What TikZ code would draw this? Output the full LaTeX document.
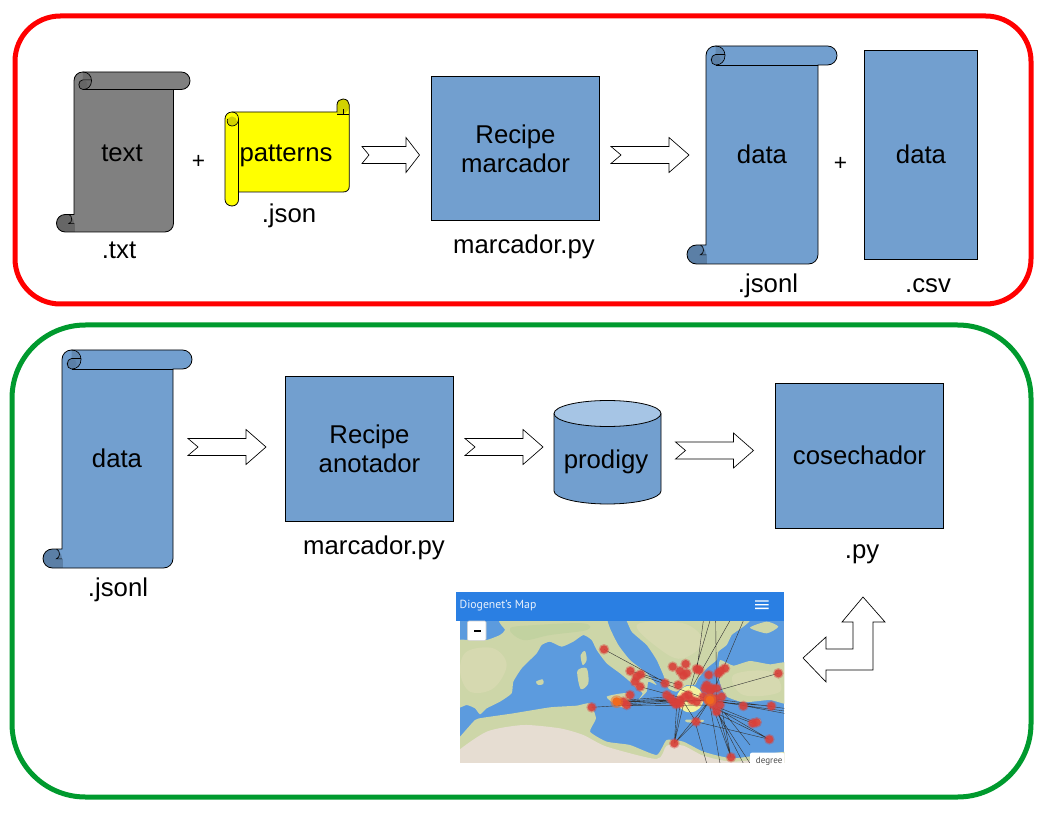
\documentclass[tikz,border=0pt]{standalone}
\usepackage{fontspec}
\setmainfont{Liberation Sans}
\newfontfamily\mapfont{PT Sans}
\newcommand{\lfont}{\fontsize{19.3}{21.75}\selectfont}
\definecolor{boxblue}{HTML}{729FCF}
\definecolor{boxdark}{HTML}{5B7FA6}
\definecolor{cyltop}{HTML}{A6C5E5}
\definecolor{greyfill}{HTML}{808080}
\definecolor{greydark}{HTML}{666666}
\definecolor{frameg}{HTML}{009A2E}
\definecolor{yel}{HTML}{FFFF00}
\definecolor{yeldark}{HTML}{D2D200}
\definecolor{mapsea}{HTML}{5C9BDE}
\definecolor{mapland}{HTML}{CDD6A8}
\definecolor{mapland2}{HTML}{D6D9B0}
\definecolor{mapland3}{HTML}{C2D2A0}
\definecolor{mapsand}{HTML}{E6DDD2}
\definecolor{maphead}{HTML}{2A7FE3}
\definecolor{mapdot}{HTML}{D9403A}
\definecolor{maporange}{HTML}{F06A1E}
\definecolor{mapglow}{HTML}{F2F2A0}
\tikzset{
  x=0.75pt,y=-0.75pt,
  frame/.style={draw,line width=3.75pt,rounded corners=#1},
  bluebox/.style={draw=black,fill=boxblue,line width=0.5pt,align=center,font=\lfont,inner sep=0pt},
  lab/.style={font=\lfont,inner sep=0pt,align=center,anchor=base},
  plus/.style={font=\fontsize{17}{20}\selectfont,inner sep=0pt},
  blockarrow/.style={draw=black,fill=white,line width=0.5pt,line join=miter},
  outline/.style={draw=black,line width=0.6pt},
  thin line/.style={line width=0.5pt},
}
% L R T B Rr d CL body dark
\newcommand{\vscrollshape}[9]{%
  \def\sp{(#1,{#3+#6/2}) .. controls (#1,{#3+#6*.22}) and ({#1+#6*.22},#3) .. ({#1+#6/2},#3) -- ({#5-#6/2},#3) .. controls ({#5-#6*.22},#3) and (#5,{#3+#6*.22}) .. (#5,{#3+#6/2}) .. controls (#5,{#3+#6*.78}) and ({#5-#6*.22},{#3+#6}) .. ({#5-#6/2},{#3+#6}) -- (#2,{#3+#6}) -- (#2,{#4-#6/2}) .. controls (#2,{#4-#6*.22}) and ({#2-#6*.22},#4) .. ({#2-#6/2},#4) -- ({#7+#6/2},#4) .. controls ({#7+#6*.22},#4) and (#7,{#4-#6*.22}) .. (#7,{#4-#6/2}) .. controls (#7,{#4-#6*.78}) and ({#7+#6*.22},{#4-#6}) .. ({#7+#6/2},{#4-#6}) -- (#1,{#4-#6}) -- cycle}%
  \fill[#8] \sp;
  \begin{scope}
    \clip (#7,{#4-#6}) rectangle ({#1+1},#4);
    \fill[#9] ({#7+#6/2},{#4-#6/2}) circle[radius=#6/2];
    \fill[#9] ({#7+#6/2},{#4-#6*.5}) rectangle ({#1+1},#4);
    \fill[#9] ({#7+#6/2},{#4-#6}) rectangle ({#1-#6*.25},#4);
  \end{scope}
  \begin{scope}
    \clip ({#1+#6/2},#3) rectangle ({#1+#6},{#3+#6});
    \fill[#9!70!#8] ({#1+#6/2},{#3+#6/2}) circle[radius=#6/2];
  \end{scope}
  \fill[#9] ({#1+#6/2},{#3+#6*0.72}) circle[radius=#6*0.27];
  \draw[thin line] ({#1+#6*0.5},#3) .. controls ({#1+#6*0.8},#3) and ({#1+#6},{#3+#6*0.2}) .. ({#1+#6},{#3+#6*0.5}) .. controls ({#1+#6},{#3+#6*0.8}) and ({#1+#6*0.8},{#3+#6}) .. ({#1+#6*0.5},{#3+#6});
  \draw[thin line] ({#1+#6*0.5},{#3+#6}) .. controls ({#1+#6*0.2},{#3+#6}) and ({#1+#6*0.22},{#3+#6*0.45}) .. ({#1+#6*0.5},{#3+#6*0.45}) -- ({#1+#6},{#3+#6*0.45});
  \draw[thin line] ({#1-#6*0.28},{#4-#6}) .. controls ({#1-#6*0.08},{#4-#6*0.9}) and ({#1-#6*0.08},{#4-#6*0.55}) .. ({#1-#6*0.3},{#4-#6*0.48}) -- (#1,{#4-#6*0.48});
  \draw[outline] ({#1+#6/2},{#3+#6}) -- (#2,{#3+#6});
  \draw[outline] \sp;
}
\newcommand{\barrow}[5]{% x0 x1 ymid head notch
  \draw[blockarrow] (#1,{#3-8.5}) -- ({#2-#4},{#3-8.5}) -- ({#2-#4},{#3-17.5}) -- (#2,#3) -- ({#2-#4},{#3+17.5}) -- ({#2-#4},{#3+8.5}) -- (#1,{#3+8.5}) -- ({#1+#5},#3) -- cycle;
}
\begin{document}
\begin{tikzpicture}
\useasboundingbox (0,0) rectangle (1056,816);
\fill[white] (0,0) rectangle (1056,816);
% frames
\draw[frame=34pt,draw=red] (15,16) rectangle (1031,304);
\draw[frame=55pt,draw=frameg] (12,325) rectangle (1031,797);
% scrolls
\vscrollshape{74}{173.5}{72}{232}{190}{17.5}{56.5}{greyfill}{greydark}
\vscrollshape{706}{818}{46}{264}{837}{19}{687}{boxblue}{boxdark}
\vscrollshape{62}{173}{350}{568}{192}{19}{43}{boxblue}{boxdark}
\node[lab] (ntext) at (122,162) {text};
\node[lab] (ndata1) at (762,164) {data};
\node[lab] (ndata3) at (117,467) {data};
% horizontal scroll
\fill[yel] (232,112) -- (337,112) -- (337,105) .. controls (337,101) and (340,99) .. (343,99) .. controls (347,99) and (349.3,102) .. (349.3,105) -- (349.3,186) .. controls (349.3,190) and (347,192) .. (343,192) -- (238.5,192) -- (238.5,199.5) .. controls (238.5,203) and (236,206) .. (232,206) .. controls (228,206) and (225,203) .. (225,199.5) -- (225,119) .. controls (225,115) and (228,112) .. (232,112);
\fill[yeldark] (337,112) -- (337,105) .. controls (337,101) and (340,99) .. (343,99) .. controls (347,99) and (349.3,102) .. (349.3,105) .. controls (349.3,110) and (346,114) .. (342,114) -- (337,114) -- cycle;
\draw[outline] (232,112) -- (337,112) -- (337,105) .. controls (337,101) and (340,99) .. (343,99) .. controls (347,99) and (349.3,102) .. (349.3,105) -- (349.3,186) .. controls (349.3,190) and (347,192) .. (343,192) -- (238.5,192) -- (238.5,199.5) .. controls (238.5,203) and (236,206) .. (232,206) .. controls (228,206) and (225,203) .. (225,199.5) -- (225,119) .. controls (225,115) and (228,112) .. (232,112);
\draw[outline] (238.5,119) -- (238.5,192);
\fill[yeldark] (232,121.5) circle[radius=5];
\draw[thin line] (232,112) .. controls (236,112) and (238.5,115) .. (238.5,119) .. controls (238.5,124) and (235,126) .. (232,126) .. controls (228,126) and (226.5,122) .. (227.5,119);
\draw[thin line] (337,114.5) -- (349,114.5) (343,114.5) -- (343,109);
\node[lab] (npat) at (286,162) {patterns};
% boxes
\node[bluebox,minimum width=126.2pt,minimum height=108.5pt] (rm) at (515.5,148.5) {Recipe\\marcador};
\node[bluebox,minimum width=85pt,minimum height=157.2pt] (d2) at (921,154.8) {data};
\node[bluebox,minimum width=126.2pt,minimum height=109.2pt] (ra) at (369.5,449) {Recipe\\anotador};
\node[bluebox,minimum width=126.2pt,minimum height=108.5pt] (co) at (859.5,455.5) {cosechador};
% cylinder
\draw[outline,fill=boxblue] (554,414) -- (554,491) .. controls (554,498) and (578,504) .. (607.5,504) .. controls (637,504) and (661,498) .. (661,491) -- (661,414) -- cycle;
\draw[outline,fill=cyltop] (607.5,413.5) ellipse[x radius=53.5,y radius=13];
\node[lab] (np) at (606,468) {prodigy};
% labels
\node[lab] (l1) at (119,259) {.txt};
\node[lab] (l2) at (289,223) {.json};
\node[lab] (l3) at (524,254) {marcador.py};
\node[lab] (l4) at (768,292.5) {.jsonl};
\node[lab] (l5) at (928,292.5) {.csv};
\node[lab] (l6) at (374,554) {marcador.py};
\node[lab] (l7) at (118,596) {.jsonl};
\node[lab] (l8) at (862,558) {.py};
\node[plus] (p1) at (198.5,161.5) {+};
\node[plus] (p2) at (840.5,163.5) {+};
% arrows
\barrow{362}{419.5}{155}{13.5}{7}
\barrow{611}{689}{155}{20}{10}
\barrow{188}{266}{447}{20}{10}
\barrow{465}{543}{447}{20}{10}
\barrow{675.5}{753.5}{450.5}{20}{10}
\draw[blockarrow] (863,597) -- (885,622) -- (873,622) -- (873,670) -- (826,670) -- (826,682) -- (803,658) -- (826,637) -- (826,649) -- (853,649) -- (853,622) -- (842,622) -- cycle;
% map, in zoom coordinates
\begin{scope}[shift={(450,585)},x=0.25pt,y=-0.25pt]
  \begin{scope}
  \clip (30,107) rectangle (1003,535);
  \fill[mapsea] (30,107) rectangle (1003,535);
  % southern Europe
  \fill[mapland] plot[smooth cycle,tension=.3] coordinates {(175,90) (165,135) (150,150) (110,165) (60,165) (10,175) (10,365) (50,360) (75,370) (90,388) (110,370) (150,350) (185,325) (190,290) (215,250) (260,205) (275,180) (300,170) (335,185) (370,170) (400,150) (425,165) (440,195) (470,235) (510,265) (540,290) (560,310) (578,325) (565,345) (590,320) (595,290) (620,300) (590,265) (540,225) (505,180) (480,130) (470,90) (520,90) (545,140) (590,180) (620,225) (640,270) (655,310) (680,320) (710,300) (735,300) (745,280) (770,250) (800,225) (805,200) (830,180) (845,150) (885,90)};
  % Anatolia
  \fill[mapland] plot[smooth cycle,tension=.3] coordinates {(810,225) (850,242) (900,228) (960,238) (1020,235) (1020,355) (960,345) (880,352) (830,335) (815,310) (805,270)};
  \fill[mapland] plot[smooth cycle,tension=.4] coordinates {(900,128) (950,110) (985,125) (950,145)};
  % patches
  \fill[mapland2] plot[smooth cycle,tension=.6] coordinates {(50,200) (130,190) (170,240) (130,310) (60,320) (30,260)};
  \fill[mapland3] plot[smooth cycle,tension=.6] coordinates {(180,130) (260,120) (400,115) (410,135) (300,150) (220,165)};
  \fill[mapland2] plot[smooth cycle,tension=.6] coordinates {(560,120) (700,115) (760,170) (700,220) (640,200)};
  \fill[mapland2] plot[smooth cycle,tension=.6] coordinates {(850,270) (960,260) (990,320) (880,330)};
  % Africa
  \fill[mapland] plot[smooth cycle,tension=.3] coordinates {(10,470) (30,455) (75,405) (100,398) (190,385) (300,367) (380,362) (420,355) (438,400) (420,440) (470,470) (540,480) (620,510) (650,465) (700,470) (760,500) (850,520) (1020,500) (1020,555) (10,555)};
  \fill[mapsand] plot[smooth cycle,tension=.4] coordinates {(10,510) (110,440) (220,420) (330,430) (400,450) (470,485) (620,522) (650,482) (700,482) (760,512) (850,530) (1020,515) (1020,555) (10,555)};
  % islands
  \fill[mapland] plot[smooth cycle,tension=.5] coordinates {(392,210) (405,198) (410,225) (398,240)};
  \fill[mapland] plot[smooth cycle,tension=.5] coordinates {(382,258) (410,250) (415,295) (392,312)};
  \fill[mapland] plot[smooth cycle,tension=.4] coordinates {(470,335) (535,325) (535,370) (500,360)};
  \fill[mapland] plot[smooth cycle,tension=.5] coordinates {(258,290) (278,283) (280,297) (265,300)};
  \fill[mapland] plot[smooth cycle,tension=.5] coordinates {(708,404) (760,405) (755,412) (712,412)};
  \fill[mapland] plot[smooth cycle,tension=.5] coordinates {(895,412) (930,403) (925,422)};
  \fill[mapglow] (720,342) circle[radius=40];
  \draw[black!80,line width=0.3pt]
    (462,193) -- (650,295) (541,258) -- (690,300) (570,270) -- (780,345) (570,305) -- (700,340)
    (425,367) -- (780,345) (500,350) -- (780,345) (530,352) -- (700,342) (530,356) -- (700,346) (530,360) -- (690,352) (530,362) -- (790,360) (530,348) -- (680,340) (530,345) -- (660,335)
    (780,107) -- (720,310) (797,107) -- (800,360) (880,107) -- (780,345) (840,107) -- (730,300) (760,107) -- (740,260)
    (985,265) -- (790,320) (1003,385) -- (790,345) (1003,378) -- (800,350) (1003,370) -- (780,340) (964,363) -- (780,350)
    (673,475) -- (690,360) (673,475) -- (700,360) (673,475) -- (680,360) (673,475) -- (738,410) (673,475) -- (780,345)
    (738,410) -- (958,463) (738,410) -- (780,345) (738,410) -- (700,350)
    (958,463) -- (800,370) (958,463) -- (790,380) (910,415) -- (790,370) (915,412) -- (800,365)
    (843,517) -- (790,370) (843,517) -- (805,380) (843,517) -- (815,370) (810,535) -- (780,360) (880,535) -- (800,380) (900,535) -- (790,365) (770,535) -- (738,420) (820,380) -- (900,480);
  \foreach \p in {(462,193),(425,367),(541,258),(572,268),(560,275),(555,290),(570,305),(540,330),(530,360),(520,350),(645,295),(668,245),(707,237),(740,252),(748,255),(710,265),(700,272),(690,258),(776,270),(805,265),(825,250),(812,258),(985,265),(685,300),(770,300),(765,310),(785,310),(780,320),(800,310),(650,330),(662,340),(670,350),(678,358),(690,345),(705,335),(715,330),(725,345),(740,350),(690,355),(760,335),(790,360),(800,380),(815,335),(810,360),(795,340),(880,363),(964,363),(908,415),(920,412),(738,410),(958,463),(673,475),(843,517),(775,345)}
    {\fill[mapdot,opacity=.4] \p circle[radius=16];
     \fill[mapdot,opacity=.85] \p circle[radius=12];}
  \fill[maporange,opacity=.5] (500,350) circle[radius=19];
  \fill[maporange] (500,350) circle[radius=13];
  \fill[maporange,opacity=.5] (780,345) circle[radius=19];
  \fill[maporange] (780,345) circle[radius=13];
  \end{scope}
  \fill[white,rounded corners=1.5pt] (900,503) -- (1003,503) -- (1003,545) -- (900,545) -- cycle;
  \fill[white] (0,535) rectangle (1010,550);
  \node[inner sep=0pt,anchor=base west,text=black!70,font=\mapfont\fontsize{6.8}{8}\selectfont] (attr) at (917,535) {degree};
  \fill[maphead] (18,20) rectangle (1003,107);
  \node[inner sep=0pt,anchor=base west,text=white!90!maphead,font=\mapfont\fontsize{8.8}{10}\selectfont] (maptitle) at (28,70) {Diogenet’s Map};
  \fill[white] (915,46) rectangle (956,50) (915,57) rectangle (956,61) (915,68) rectangle (956,72);
  \draw[black!20,fill=white,rounded corners=1pt] (52,108) rectangle (108,167);
  \fill[black] (71,135) rectangle (92,141);
\end{scope}
\end{tikzpicture}
\end{document}
